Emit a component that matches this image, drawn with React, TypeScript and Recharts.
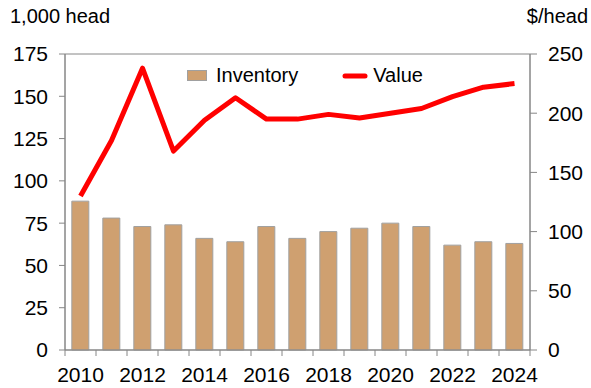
import React from "react";
import { ComposedChart, Bar, Line, XAxis, YAxis, ReferenceArea } from "recharts";

const years = ["2010","2011","2012","2013","2014","2015","2016","2017","2018","2019","2020","2021","2022","2023","2024"];
const inventory = [88, 78, 73, 74, 66, 64, 73, 66, 70, 72, 75, 73, 62, 64, 63];
const value = [130, 177, 238, 168, 194, 213, 195, 195, 199, 196, 200, 204, 214, 222, 225];
const leftTicks = [0, 25, 50, 75, 100, 125, 150, 175];
const rightTicks = [0, 50, 100, 150, 200, 250];
const seriesNames = ["Inventory", "Value"];

const data = years.map((y, i) => ({ year: y, Inventory: inventory[i], Value: value[i] }));

const FONT = "'Liberation Sans', Arial, sans-serif";
const AXIS = "#868686";
const BAR_FILL = "#CFA070";
const BAR_STROKE = "#A0A0A0";
const LINE_COLOR = "#FF0000";
const TICK_FONT = 21;

const XTick = (props: any) => {
  const { x, y, payload, index } = props;
  const half = payload && payload.offset ? payload.offset : 15.5;
  const last = index === years.length - 1;
  return (
    <g>
      <line x1={x - half} x2={x - half} y1={y} y2={y + 6} stroke={AXIS} strokeWidth={1} />
      {last && <line x1={x + half} x2={x + half} y1={y} y2={y + 6} stroke={AXIS} strokeWidth={1} />}
      {index % 2 === 0 && (
        <text x={x} y={y + 17} dy="0.71em" textAnchor="middle" fontSize={TICK_FONT} fontFamily={FONT} fill="#000">
          {payload.value}
        </text>
      )}
    </g>
  );
};

export default function App() {
  return (
    <div style={{ position: "absolute", left: 0, top: 0, width: 591, height: 388, background: "#fff" }}>
      <ComposedChart
        width={591}
        height={388}
        data={data}
        margin={{ top: 54, right: 0, bottom: 0, left: 0 }}
        barCategoryGap="22%"
      >
        <XAxis
          xAxisId="main"
          dataKey="year"
          interval={0}
          height={38}
          axisLine={{ stroke: AXIS }}
          tickLine={false}
          tickSize={0}
          tickMargin={0}
          tick={<XTick />}
        />
        <YAxis
          yAxisId="left"
          orientation="left"
          width={65}
          domain={[0, 175]}
          ticks={leftTicks}
          interval={0}
          tickSize={6}
          tickMargin={11}
          axisLine={{ stroke: AXIS }}
          tickLine={{ stroke: AXIS }}
          tick={{ fontSize: TICK_FONT, fontFamily: FONT, fill: "#000" }}
        />
        <YAxis
          yAxisId="right"
          orientation="right"
          width={61}
          domain={[0, 250]}
          ticks={rightTicks}
          interval={0}
          tickSize={7}
          tickMargin={11}
          axisLine={{ stroke: AXIS }}
          tickLine={{ stroke: AXIS }}
          tick={{ fontSize: TICK_FONT, fontFamily: FONT, fill: "#000" }}
        />
        <ReferenceArea
          xAxisId="main"
          yAxisId="left"
          y1={0}
          y2={175}
          fill="none"
          stroke={AXIS}
          strokeWidth={1}
          ifOverflow="visible"
        />
        <Bar
          dataKey="Inventory"
          xAxisId="main"
          yAxisId="left"
          fill={BAR_FILL}
          stroke={BAR_STROKE}
          strokeWidth={1}
          isAnimationActive={false}
        />
        <Line
          dataKey="Value"
          xAxisId="main"
          yAxisId="right"
          type="linear"
          stroke={LINE_COLOR}
          strokeWidth={5}
          dot={false}
          activeDot={false}
          strokeLinejoin="round"
          isAnimationActive={false}
        />
      </ComposedChart>
      <div style={{ position: "absolute", left: 10, top: 5, fontFamily: FONT, fontSize: 20, color: "#000" }}>1,000 head</div>
      <div style={{ position: "absolute", right: 3, top: 5, fontFamily: FONT, fontSize: 20, color: "#000" }}>$/head</div>
      <div style={{ position: "absolute", left: 187, top: 64, display: "flex", alignItems: "center", fontFamily: FONT, fontSize: 20, color: "#000" }}>
        <svg width={20} height={11} style={{ marginRight: 9 }}>
          <rect x={0.5} y={0.5} width={19} height={10} fill={BAR_FILL} stroke={BAR_STROKE} />
        </svg>
        <span style={{ marginRight: 44 }}>{seriesNames[0]}</span>
        <svg width={26} height={10} style={{ marginRight: 5 }}>
          <line x1={3} x2={23} y1={5} y2={5} stroke={LINE_COLOR} strokeWidth={5} strokeLinecap="round" />
        </svg>
        <span>{seriesNames[1]}</span>
      </div>
    </div>
  );
}
